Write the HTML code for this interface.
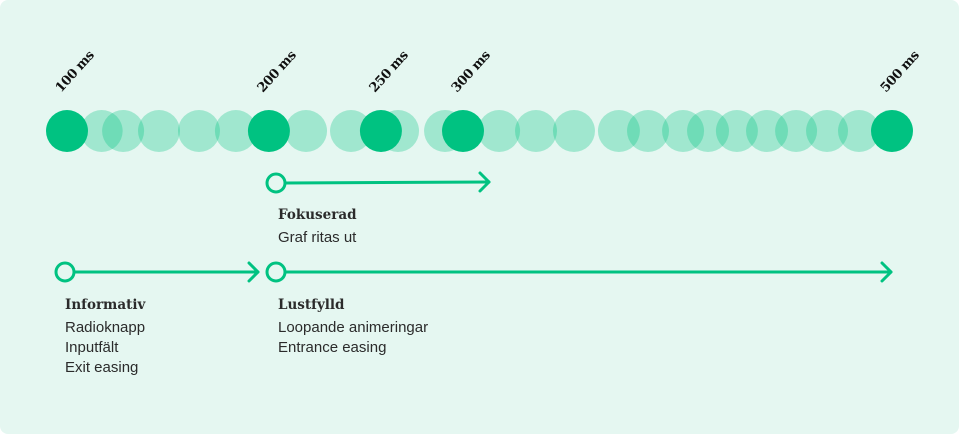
<!DOCTYPE html>
<html><head><meta charset="utf-8"><style>
html,body{margin:0;padding:0;background:#fff;}
#card{position:absolute;left:0;top:0;width:959px;height:434px;background:#e5f7f1;border-radius:8px;overflow:hidden;}
svg{position:absolute;left:0;top:0}
.t{font-family:"Liberation Sans",sans-serif;font-size:15px;fill:#2b2b2b}
.h{font-family:"DejaVu Serif","Liberation Serif",serif;font-weight:bold;font-size:13.5px;fill:#2b2b2b}
.lab{font-family:"DejaVu Serif","Liberation Serif",serif;font-weight:bold;font-size:13px;letter-spacing:-0.4px;fill:#111}
</style></head><body>
<div id="card">
<svg id="chart" width="959" height="434">
<g id="lights"></g><g id="darks"></g><g id="labels"></g>
<g fill="none" stroke="#00c281" stroke-width="3" stroke-linecap="round" stroke-linejoin="round">
 <g><circle cx="276" cy="183" r="9"/><line x1="285" y1="183" x2="489" y2="182"/><polyline points="480,173 489,182 480,191"/></g>
 <g><circle cx="65" cy="272" r="9"/><line x1="74" y1="272" x2="258" y2="272"/><polyline points="249,263 258,272 249,281"/></g>
 <g><circle cx="276" cy="272" r="9"/><line x1="285" y1="272" x2="891" y2="272"/><polyline points="882,263 891,272 882,281"/></g>
</g>
<text class="h" x="278" y="219">Fokuserad</text>
<text class="t" x="278" y="242">Graf ritas ut</text>
<text class="h" x="65" y="309">Informativ</text>
<text class="t" x="65" y="332">Radioknapp</text>
<text class="t" x="65" y="352">Inputfält</text>
<text class="t" x="65" y="372">Exit easing</text>
<text class="h" x="278" y="309">Lustfylld</text>
<text class="t" x="278" y="332">Loopande animeringar</text>
<text class="t" x="278" y="352">Entrance easing</text>
</svg></div>
<script>
const lightMs=[116.8,127.2,144.6,164,181.9,215.9,237.7,260.5,283.3,309.5,327.4,345.8,367.6,381.7,398.7,410.8,424.8,439.4,453.5,468.5,484];
const darkMs=[100,197.9,252.2,292,500];
const darkLabels=["100 ms","200 ms","250 ms","300 ms","500 ms"];
const NS="http://www.w3.org/2000/svg";
function x(ms){return 67+(ms-100)*(892-67)/400;}
const cy=131,r=21;
const gl=document.getElementById('lights');
lightMs.forEach(v=>{const c=document.createElementNS(NS,'circle');
c.setAttribute('cx',x(v));c.setAttribute('cy',cy);c.setAttribute('r',r);c.setAttribute('fill','#00c281');c.setAttribute('fill-opacity','0.3');


gl.appendChild(c);});
const gd=document.getElementById('darks'),gt=document.getElementById('labels');
darkMs.forEach((v,i)=>{const c=document.createElementNS(NS,'circle');
c.setAttribute('cx',x(v));c.setAttribute('cy',cy);c.setAttribute('r',r);c.setAttribute('fill','#00c281');


gd.appendChild(c);
const t=document.createElementNS(NS,'text');const lx=x(v)-6,ly=93;
t.setAttribute('x',lx);t.setAttribute('y',ly);t.setAttribute('class','lab');
t.setAttribute('transform','rotate(-48 '+lx+' '+ly+')');t.textContent=darkLabels[i];


gt.appendChild(t);});
</script>
</body></html>
